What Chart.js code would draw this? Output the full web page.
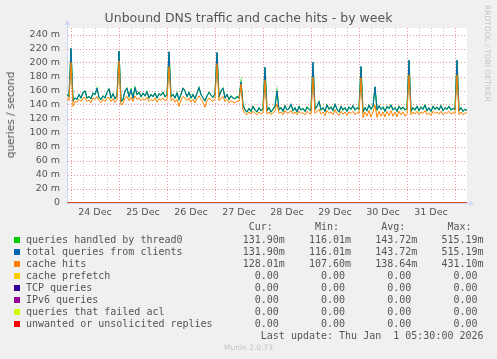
<!DOCTYPE html>
<html>
<head>
<meta charset="utf-8">
<script src="https://cdn.jsdelivr.net/npm/chart.js@4.4.0/dist/chart.umd.min.js"></script>
<style>
  html, body { margin: 0; padding: 0; background: #F0F0F0; }
  #wrap { position: relative; width: 497px; height: 359px; overflow: hidden; font-family: "DejaVu Sans", sans-serif; color: #555; }
  #chart { position: absolute; left: 0; top: 0; }
  .title { position: absolute; left: 0; top: 10px; width: 497px; text-align: center; font-size: 12.5px; color: #555; white-space: nowrap; }
  .ytitle { position: absolute; left: 10px; top: 115px; transform: translate(-50%, -50%) rotate(-90deg); font-size: 10.5px; white-space: nowrap; }
  .rrd { position: absolute; left: 483px; top: 5px; writing-mode: vertical-rl; font-size: 7.5px; color: #c4c4c4; white-space: nowrap; }
  .munin { position: absolute; left: 0; width: 497px; top: 343px; text-align: center; font-size: 7.5px; color: #c4c4c4; }
  .leg { position: absolute; left: 26px; font-family: "DejaVu Sans Mono", monospace; font-size: 10px; line-height: 12px; white-space: pre; color: #555; }
  .sw { position: absolute; left: 14px; width: 6px; height: 6px; }
</style>
</head>
<body>
<div id="wrap">
  <canvas id="chart" width="497" height="225"></canvas>
  <div class="title">Unbound DNS traffic and cache hits - by week</div>
  <div class="ytitle">queries / second</div>
  <div class="rrd">RRDTOOL / TOBI OETIKER</div>
  <div id="legend"></div>
  <div class="munin">Munin 2.0.73</div>
</div>
<script>
// hours since 24 Dec 00:00, one sample per hour
const startHour = -2;
const endHour = 198;

// total queries from clients (same as queries handled by thread0), in milli-queries/s
const totalQueries = [
  155,152,221,146,150,148,155,150,158,160,150,152,
  149,157,155,164,151,148,153,150,158,163,150,156,
  149,153,217,145,148,160,164,152,162,150,165,155,
  158,152,157,153,159,150,155,152,157,150,156,154,
  158,152,154,216,152,155,150,157,148,155,164,160,
  152,158,150,155,149,157,165,155,150,146,153,158,
  154,151,156,215,152,160,164,150,155,148,153,150,
  149,152,150,173,140,133,130,135,131,138,133,130,
  136,132,134,194,132,136,130,134,138,160,133,136,
  131,139,133,135,141,132,136,130,138,133,135,131,
  137,134,132,201,134,138,145,133,136,131,140,134,
  137,132,141,134,130,138,133,136,131,137,134,139,
  133,136,134,195,130,136,132,140,134,138,166,133,
  139,134,137,131,138,135,140,133,136,131,138,134,
  137,133,135,204,131,136,133,138,132,137,134,140,
  132,136,131,138,134,137,133,139,132,136,134,138,
  133,135,134,204,132,136,131,134,132
];

const cacheHits = [
  150,146,201,138,145,144,148,145,150,151,145,147,
  143,150,148,152,146,143,148,145,150,151,145,149,
  144,147,203,140,142,150,152,146,151,145,153,148,
  150,146,149,147,151,145,148,146,150,144,149,147,
  150,146,148,195,146,149,144,148,138,147,152,150,
  146,150,144,148,143,149,153,148,144,137,146,150,
  147,145,149,199,146,150,152,145,148,143,146,144,
  143,146,145,170,133,128,126,130,127,131,128,126,
  130,127,129,176,127,130,126,129,131,142,128,130,
  126,132,128,129,132,127,130,126,131,128,129,126,
  131,128,127,180,128,131,134,127,130,125,132,128,
  130,126,133,128,125,131,127,130,125,130,128,131,
  126,129,128,179,122,130,124,132,123,130,140,122,
  131,124,130,123,131,125,132,124,130,123,131,126,
  130,124,128,183,126,130,127,131,126,130,128,132,
  126,129,125,131,128,130,127,131,126,129,128,131,
  127,129,128,183,126,130,126,129,128
];

// flat series, all zero over the whole week
const zeroTimes = [startHour, endHour];
const zeroValues = [0, 0];

const dayLabels = ['24 Dec', '25 Dec', '26 Dec', '27 Dec', '28 Dec', '29 Dec', '30 Dec', '31 Dec'];
const yTicks = [0, 20, 40, 60, 80, 100, 120, 140, 160, 180, 200, 220, 240];

const legendLabels = [
  'queries handled by thread0', 'total queries from clients', 'cache hits', 'cache prefetch',
  'TCP queries', 'IPv6 queries', 'queries that failed acl', 'unwanted or unsolicited replies'
];
const legendColors = ['#00CC00', '#0066B3', '#FF8000', '#FFCC00', '#330099', '#990099', '#CCFF00', '#FF0000'];
const curValues = ['131.90m', '131.90m', '128.01m', '0.00 ', '0.00 ', '0.00 ', '0.00 ', '0.00 '];
const minValues = ['116.01m', '116.01m', '107.60m', '0.00 ', '0.00 ', '0.00 ', '0.00 ', '0.00 '];
const avgValues = ['143.72m', '143.72m', '138.64m', '0.00 ', '0.00 ', '0.00 ', '0.00 ', '0.00 '];
const maxValues = ['515.19m', '515.19m', '431.10m', '0.00 ', '0.00 ', '0.00 ', '0.00 ', '0.00 '];
const lastUpdate = 'Last update: Thu Jan  1 05:30:00 2026';

const toPoints = vals => vals.map((v, i) => ({ x: startHour + i, y: v }));
const zeroPoints = zeroTimes.map((t, i) => ({ x: t, y: zeroValues[i] }));

const MAJOR = 'rgba(220, 110, 110, 0.7)';
const MINOR = 'rgba(150, 150, 150, 0.5)';
const AXIS = '#CFD6F8';

function line(data, color, width) {
  return { data, borderColor: color, borderWidth: width || 1, pointRadius: 0, tension: 0, fill: false };
}

// white canvas behind the plot, plus munin-style axis arrows
const munin = {
  id: 'munin',
  beforeDraw(chart) {
    const { ctx, chartArea: a } = chart;
    ctx.save();
    ctx.fillStyle = '#fff';
    ctx.fillRect(a.left, a.top, a.right - a.left, a.bottom - a.top);
    ctx.restore();
  },
  afterDraw(chart) {
    const { ctx, chartArea: a } = chart;
    const x0 = Math.round(a.left) + 0.5;
    const y0 = Math.round(a.bottom) + 0.5;
    ctx.save();
    ctx.strokeStyle = AXIS;
    ctx.fillStyle = AXIS;
    ctx.lineWidth = 1;
    ctx.beginPath();
    ctx.moveTo(x0, a.top);
    ctx.lineTo(x0, a.top - 4);
    ctx.moveTo(a.right, y0);
    ctx.lineTo(a.right + 3, y0);
    ctx.stroke();
    ctx.beginPath();
    ctx.moveTo(x0 - 3, a.top - 3);
    ctx.lineTo(x0 + 3, a.top - 3);
    ctx.lineTo(x0, a.top - 8);
    ctx.closePath();
    ctx.fill();
    ctx.beginPath();
    ctx.moveTo(a.right + 2, y0 - 3);
    ctx.lineTo(a.right + 2, y0 + 3);
    ctx.lineTo(a.right + 7, y0);
    ctx.closePath();
    ctx.fill();
    ctx.restore();
  }
};

// chart.js paints the first dataset on top, so list them top-down
new Chart(document.getElementById('chart'), {
  type: 'line',
  data: {
    datasets: [
      line(zeroPoints, legendColors[7]),
      line(zeroPoints, legendColors[6]),
      line(zeroPoints, legendColors[5]),
      line(zeroPoints, legendColors[4]),
      line(zeroPoints, legendColors[3]),
      line(toPoints(cacheHits), legendColors[2]),
      line(toPoints(totalQueries), legendColors[1]),
      line(toPoints(totalQueries), legendColors[0], 1.2),
    ],
  },
  options: {
    responsive: false,
    animation: false,
    devicePixelRatio: 1,
    layout: { padding: { top: 28, right: 30, left: 0, bottom: 0 } },
    plugins: { legend: { display: false }, tooltip: { enabled: false } },
    scales: {
      x: {
        type: 'linear',
        min: startHour,
        max: endHour,
        afterFit: s => { s.height = 22; },
        border: { color: AXIS, dash: [1, 2] },
        grid: {
          drawTicks: false,
          color: c => c.tick.value >= endHour ? 'rgba(0,0,0,0)' : (c.tick.value % 24 === 0 ? MAJOR : MINOR),
        },
        ticks: {
          stepSize: 6,
          includeBounds: false,
          autoSkip: false,
          maxRotation: 0,
          padding: 4,
          color: '#555',
          font: { family: 'DejaVu Sans', size: 9.5 },
          callback: v => (v % 24 === 12 ? dayLabels[(v - 12) / 24] || '' : ''),
        },
      },
      y: {
        min: 0,
        max: 250,
        afterFit: s => { s.width = 67; },
        border: { color: AXIS, dash: [1, 2] },
        grid: {
          drawTicks: false,
          color: c => (yTicks.includes(c.tick.value) ? MAJOR : MINOR),
        },
        ticks: {
          stepSize: 10,
          padding: 7,
          color: '#555',
          font: { family: 'DejaVu Sans', size: 9.5 },
          callback: v => (yTicks.includes(v) ? (v === 0 ? '0' : v + ' m') : ''),
        },
      },
    },
  },
  plugins: [munin],
});

// legend table, munin style
const legend = document.getElementById('legend');
const rowTop = y => `top:${y}px`;
let html = `<div class="leg" style="${rowTop(221)}">${' '.repeat(37)}Cur:${' '.repeat(7)}Min:${' '.repeat(7)}Avg:${' '.repeat(7)}Max:</div>`;
legendLabels.forEach((label, i) => {
  const top = 233.5 + i * 12.05;
  const text = label.padEnd(36) + curValues[i].padStart(7) + minValues[i].padStart(11) +
    avgValues[i].padStart(11) + maxValues[i].padStart(11);
  html += `<div class="sw" style="top:${top + 3}px;background:${legendColors[i]}"></div>`;
  html += `<div class="leg" style="${rowTop(top)}">${text}</div>`;
});
html += `<div class="leg" style="${rowTop(329.7)}">${' '.repeat(39)}${lastUpdate}</div>`;
legend.innerHTML = html;
</script>
</body>
</html>
